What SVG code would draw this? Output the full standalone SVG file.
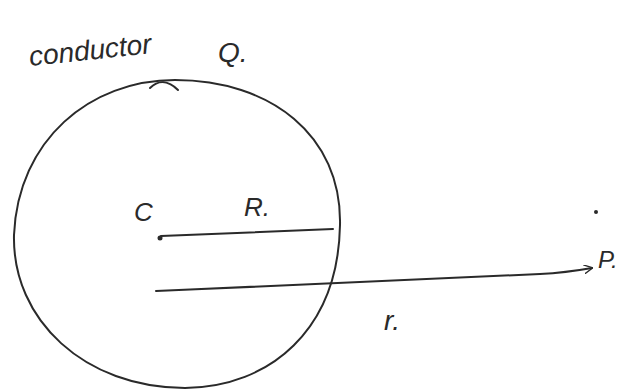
<svg xmlns="http://www.w3.org/2000/svg" width="635" height="392" viewBox="0 0 635 392">
<style>
.ink{fill:none;stroke:#2a2a2a;stroke-width:2;stroke-linecap:round;stroke-linejoin:round}
.lbl{font-family:"Liberation Sans",sans-serif;font-style:italic;fill:#2a2a2a}
</style>
<defs>
<marker id="arr" viewBox="0 0 10 10" refX="9" refY="5" markerWidth="9" markerHeight="9" orient="auto" markerUnits="userSpaceOnUse">
<path d="M0,0 L10,5 L0,10" fill="none" stroke="#2a2a2a" stroke-width="1.5"/>
</marker>
</defs>
<rect width="635" height="392" fill="#fff"/>
<g id="conductor">
<path class="ink" d="M340,225 C342,135 270,80 175,80 C90,80 18,140 14,235 C12,320 85,388 185,388 C270,387 338,330 340,225 Z"/>
<path class="ink" d="M150,88 C158,80 168,80 178,90" stroke-width="1.5"/>
<text class="lbl" x="30" y="66" font-size="28" transform="rotate(-6 30 66)">conductor</text>
<text class="lbl" x="218" y="62" font-size="28">Q.</text>
</g>
<g id="center">
<circle cx="160" cy="238" r="2.5" fill="#2a2a2a"/>
<text class="lbl" x="134" y="221" font-size="26">C</text>
</g>
<g id="pointP">
<circle cx="596" cy="212" r="2" fill="#2a2a2a"/>
<text class="lbl" x="598" y="268" font-size="24">P.</text>
</g>
<g id="connectors">
<path class="ink" d="M161,236 L333,229"/>
<text class="lbl" x="244" y="216" font-size="26">R.</text>
<path class="ink" d="M156,291 C300,285 450,277 540,274 C560,273 575,271 592,268" marker-end="url(#arr)"/>
<text class="lbl" x="384" y="330" font-size="28">r.</text>
</g>
</svg>
